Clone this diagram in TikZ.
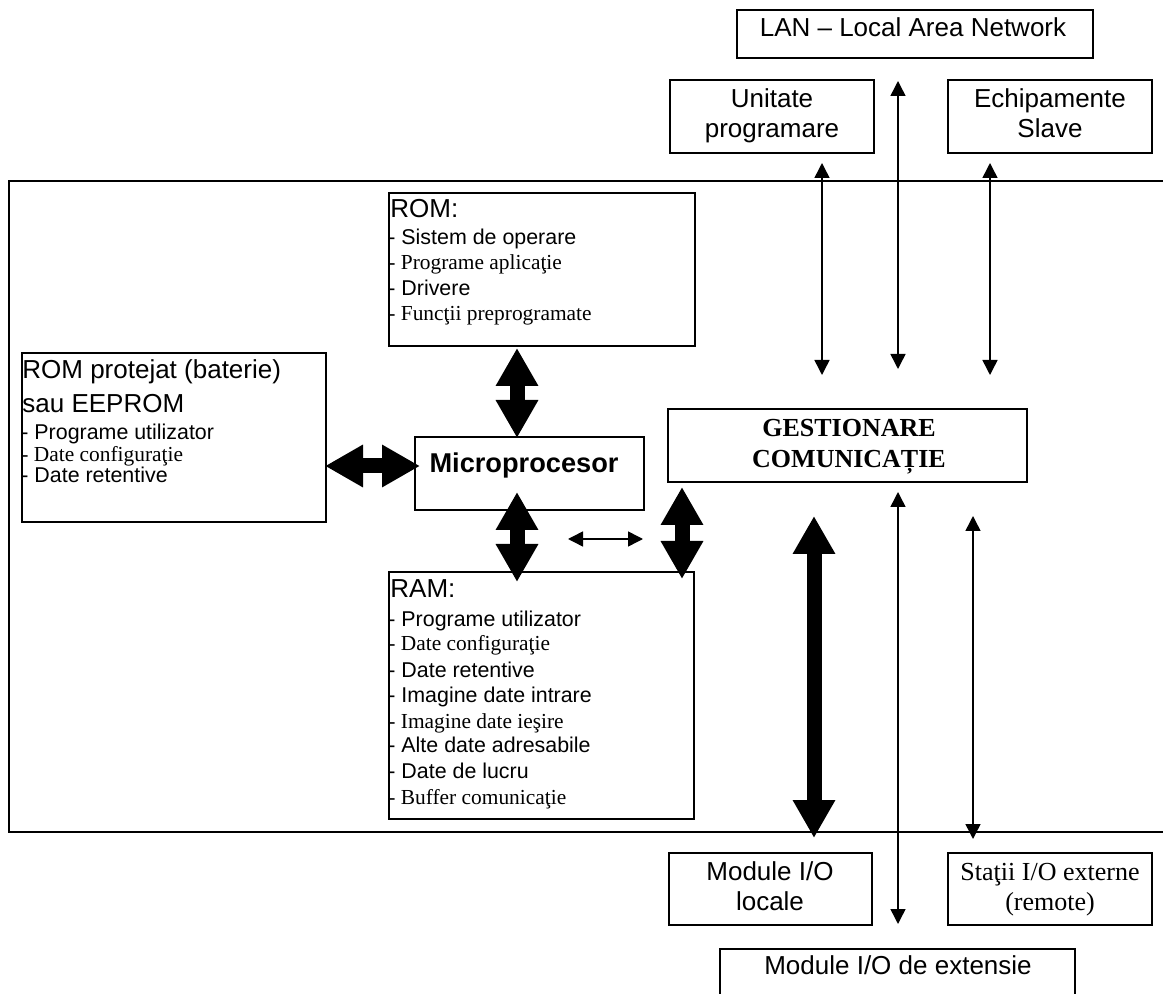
\documentclass[tikz,border=0pt]{standalone}
\usepackage{fontspec}
\setmainfont{Liberation Serif}
\setsansfont{Liberation Sans}
\usetikzlibrary{arrows.meta,fit}
\begin{document}
\begin{tikzpicture}[x=0.5pt,y=-0.5pt,
 box/.style={draw, line width=0.75pt, inner sep=0pt},
 hdr/.style={anchor=base west, inner sep=0pt, font=\sffamily\fontsize{13}{15}\selectfont},
 itsans/.style={anchor=base west, inner sep=0pt, font=\sffamily\fontsize{10.7}{12}\selectfont},
 itserif/.style={anchor=base west, inner sep=0pt, font=\rmfamily\fontsize{10.7}{12}\selectfont},
 lbl/.style={anchor=base, inner sep=0pt, font=\sffamily\fontsize{13}{15}\selectfont},
 lblserif/.style={anchor=base, inner sep=0pt, font=\rmfamily\fontsize{13}{15}\selectfont},
 bigarr/.style={line width=7.5pt, {Triangle[width=20pt,length=19pt]}-{Triangle[width=20pt,length=19pt]}},
 smallarr/.style={line width=0.75pt, {Triangle[width=7.5pt,length=7.5pt]}-{Triangle[width=7.5pt,length=7.5pt]}},
]
\useasboundingbox (0,0) rectangle (1163,994);
\clip (0,0) rectangle (1163,994);

% outer frame (open to the right)
\node[box, line width=1pt, fit={(9,181) (1200,832)}] (frame) {};

% boxes
\node[box, fit={(737,10) (1093,58)}] (lan) {};
\node[box, fit={(670,80) (874,153)}] (unit) {};
\node[box, fit={(948,80) (1152,153)}] (echip) {};
\node[box, fit={(389,193) (695,346)}] (rom) {};
\node[box, fit={(22,353) (326,522)}] (romp) {};
\node[box, fit={(415,437) (644,510)}] (micro) {};
\node[box, fit={(668,409) (1027,482)}] (gest) {};
\node[box, fit={(389,572) (694,819)}] (ram) {};
\node[box, fit={(669,853) (872,925)}] (modloc) {};
\node[box, fit={(948,853) (1152,925)}] (statii) {};
\node[box, fit={(720,949) (1075,1020)}] (modext) {};

% centred labels
\node[lbl] (lant) at (913,37) {LAN – Local Area Network};
\node[lbl] (unit1) at (772,108) {Unitate};
\node[lbl] (unit2) at (772,138) {programare};
\node[lbl] (echip1) at (1050,108) {Echipamente};
\node[lbl] (echip2) at (1050,138) {Slave};
\node[anchor=base, inner sep=0pt, font=\sffamily\bfseries\fontsize{13.6}{16}\selectfont] (microt) at (524,473) {Microprocesor};
\node[anchor=base, inner sep=0pt, font=\rmfamily\bfseries\fontsize{13}{16}\selectfont] (gest1) at (849,437) {GESTIONARE};
\node[anchor=base, inner sep=0pt, font=\rmfamily\bfseries\fontsize{13}{16}\selectfont] (gest2) at (849,468) {COMUNICAȚIE};
\node[lbl] (modloc1) at (770,880) {Module I/O};
\node[lbl] (modloc2) at (770,910) {locale};
\node[lblserif] (statii1) at (1050,880) {Staţii I/O externe};
\node[lblserif] (statii2) at (1050,910) {(remote)};
\node[lbl] (modext1) at (898,974) {Module I/O de extensie};

% ROM
\node[hdr] (rom0) at (390,218) {ROM:};
\node[itsans] (rom1) at (388,245) {- Sistem de operare};
\node[itserif] (rom2) at (388,270) {- Programe aplicaţie};
\node[itsans] (rom3) at (388,296) {- Drivere};
\node[itserif] (rom4) at (388,321) {- Funcţii preprogramate};

% ROM protejat
\node[hdr] (romp0) at (22,379) {ROM protejat (baterie)};
\node[hdr] (romp1) at (22,413) {sau EEPROM};
\node[itsans] (romp2) at (21,440) {- Programe utilizator};
\node[itserif] (romp3) at (21,462) {- Date configuraţie};
\node[itsans] (romp4) at (21,483) {- Date retentive};

% RAM
\node[hdr] (ram0) at (390,598) {RAM:};
\node[itsans] (ram1) at (388,626) {- Programe utilizator};
\node[itserif] (ram2) at (388,651) {- Date configuraţie};
\node[itsans] (ram3) at (388,677) {- Date retentive};
\node[itsans] (ram4) at (388,703) {- Imagine date intrare};
\node[itserif] (ram5) at (388,728) {- Imagine date ieşire};
\node[itsans] (ram6) at (388,753) {- Alte date adresabile};
\node[itsans] (ram7) at (388,778) {- Date de lucru};
\node[itserif] (ram8) at (388,804) {- Buffer comunicaţie};

% arrow end points
\coordinate (t1a) at (517,348); \coordinate (t1b) at (517,438);
\coordinate (t2a) at (325,466); \coordinate (t2b) at (420,466);
\coordinate (t3a) at (517,492); \coordinate (t3b) at (517,582);
\coordinate (t4a) at (682,487); \coordinate (t4b) at (682,579);
\coordinate (t5a) at (814,516); \coordinate (t5b) at (814,838);
\coordinate (s1a) at (568,539); \coordinate (s1b) at (643,539);
\coordinate (a1a) at (822,163); \coordinate (a1b) at (822,375);
\coordinate (a2a) at (898,81);  \coordinate (a2b) at (898,369);
\coordinate (a3a) at (990,163); \coordinate (a3b) at (990,375);
\coordinate (b1a) at (898,492); \coordinate (b1b) at (898,924);
\coordinate (b2a) at (973,516); \coordinate (b2b) at (973,839);

\draw[bigarr] (t1a) -- (t1b);
\draw[bigarr] (t2a) -- (t2b);
\draw[bigarr] (t3a) -- (t3b);
\draw[bigarr] (t4a) -- (t4b);
\draw[bigarr] (t5a) -- (t5b);
\draw[smallarr] (s1a) -- (s1b);
\draw[smallarr] (a1a) -- (a1b);
\draw[smallarr] (a2a) -- (a2b);
\draw[smallarr] (a3a) -- (a3b);
\draw[smallarr] (b1a) -- (b1b);
\draw[smallarr] (b2a) -- (b2b);
\end{tikzpicture}
\end{document}
